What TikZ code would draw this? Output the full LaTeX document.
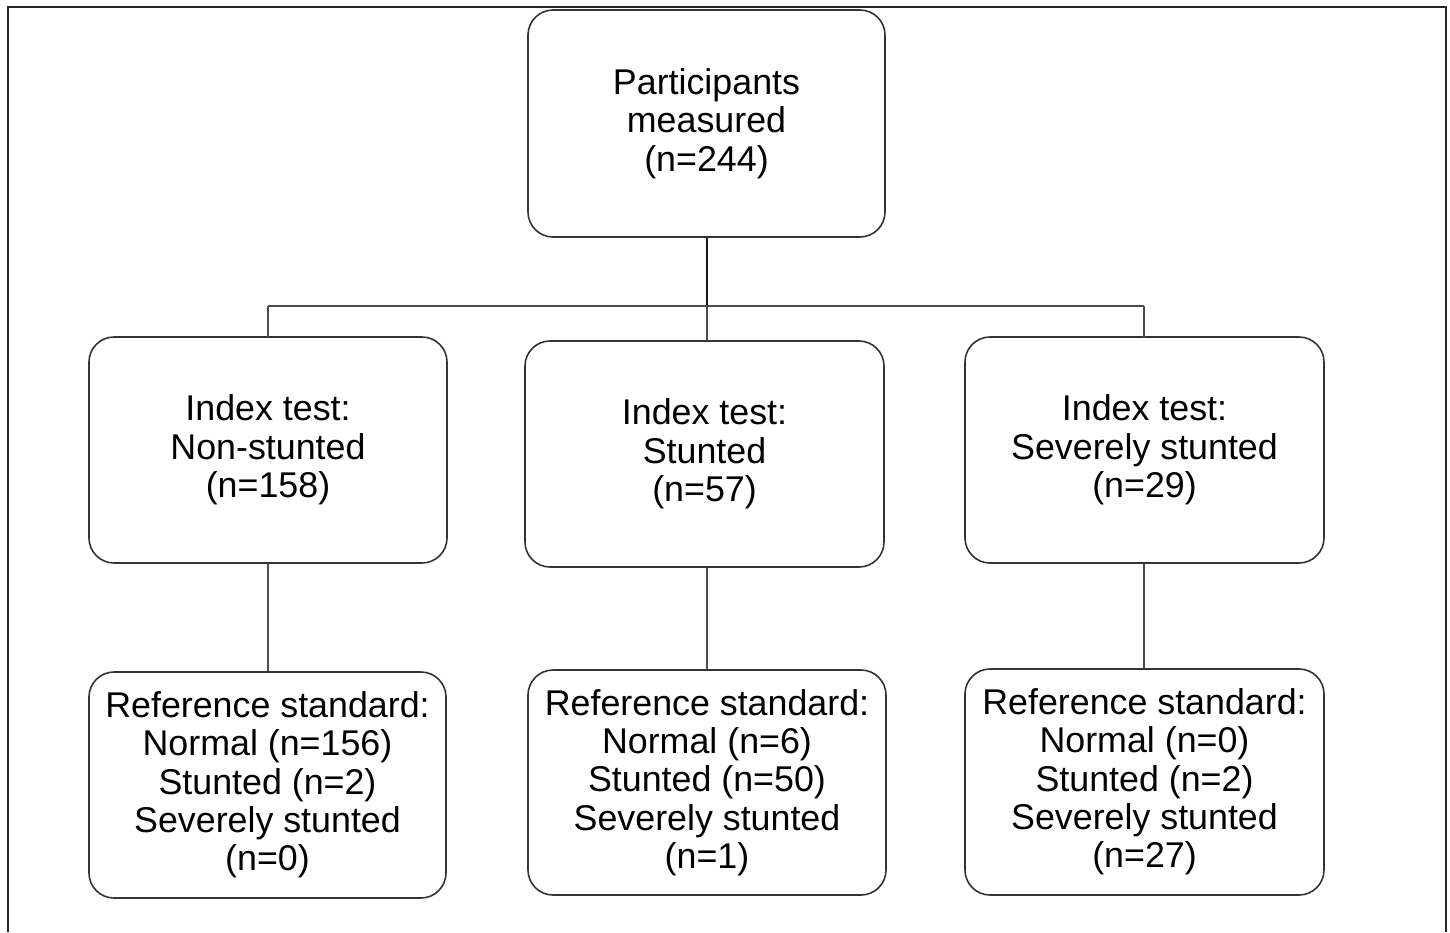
\documentclass[tikz,border=0pt]{standalone}
\usepackage{fontspec}
\setmainfont{Liberation Sans}
\begin{document}
\begin{tikzpicture}[x=1pt,y=-1pt,
  box/.style={draw=black!80, line width=1.6pt, rounded corners=25pt, align=center,
    font=\fontsize{35.8}{38.3}\selectfont, inner sep=0pt},
  conn/.style={draw=black!70, line width=1.5pt},
  mainconn/.style={draw=black!90, line width=2pt}]
\useasboundingbox (0,0) rectangle (1450,932);
\draw[line width=2.5pt, black!85] (8,932) -- (8,7) -- (1446,7) -- (1446,932);

\node[box, minimum width=357pt, minimum height=227pt] (top) at (706.5,123.5) {Participants\\measured\\(n=244)};

\node[box, minimum width=358pt, minimum height=226pt] (m1) at (268,450) {Index test:\\Non-stunted\\(n=158)};
\node[box, minimum width=359pt, minimum height=226pt] (m2) at (704.5,454) {Index test:\\Stunted\\(n=57)};
\node[box, minimum width=359pt, minimum height=226pt] (m3) at (1144.5,450) {Index test:\\Severely stunted\\(n=29)};

\node[box, minimum width=357pt, minimum height=226pt] (b1) at (267.5,785) {Reference standard:\\Normal (n=156)\\Stunted (n=2)\\Severely stunted\\(n=0)};
\node[box, minimum width=358pt, minimum height=225pt] (b2) at (707,782.5) {Reference standard:\\Normal (n=6)\\Stunted (n=50)\\Severely stunted\\(n=1)};
\node[box, minimum width=359pt, minimum height=226pt] (b3) at (1144.5,782) {Reference standard:\\Normal (n=0)\\Stunted (n=2)\\Severely stunted\\(n=27)};

\coordinate (j) at (707,306);
\draw[mainconn] (top.south -| j) -- (j);
\draw[conn] (268,306) -- (1144,306);
\draw[conn] (268,306) -- (268,337);
\draw[conn] (j) -- (m2.north -| j);
\draw[conn] (1144,306) -- (1144,337);

\draw[conn] (m1.south -| 268,0) -- (b1.north -| 268,0);
\draw[conn] (m2.south -| 707,0) -- (b2.north -| 707,0);
\draw[conn] (m3.south -| 1144,0) -- (b3.north -| 1144,0);
\end{tikzpicture}
\end{document}
